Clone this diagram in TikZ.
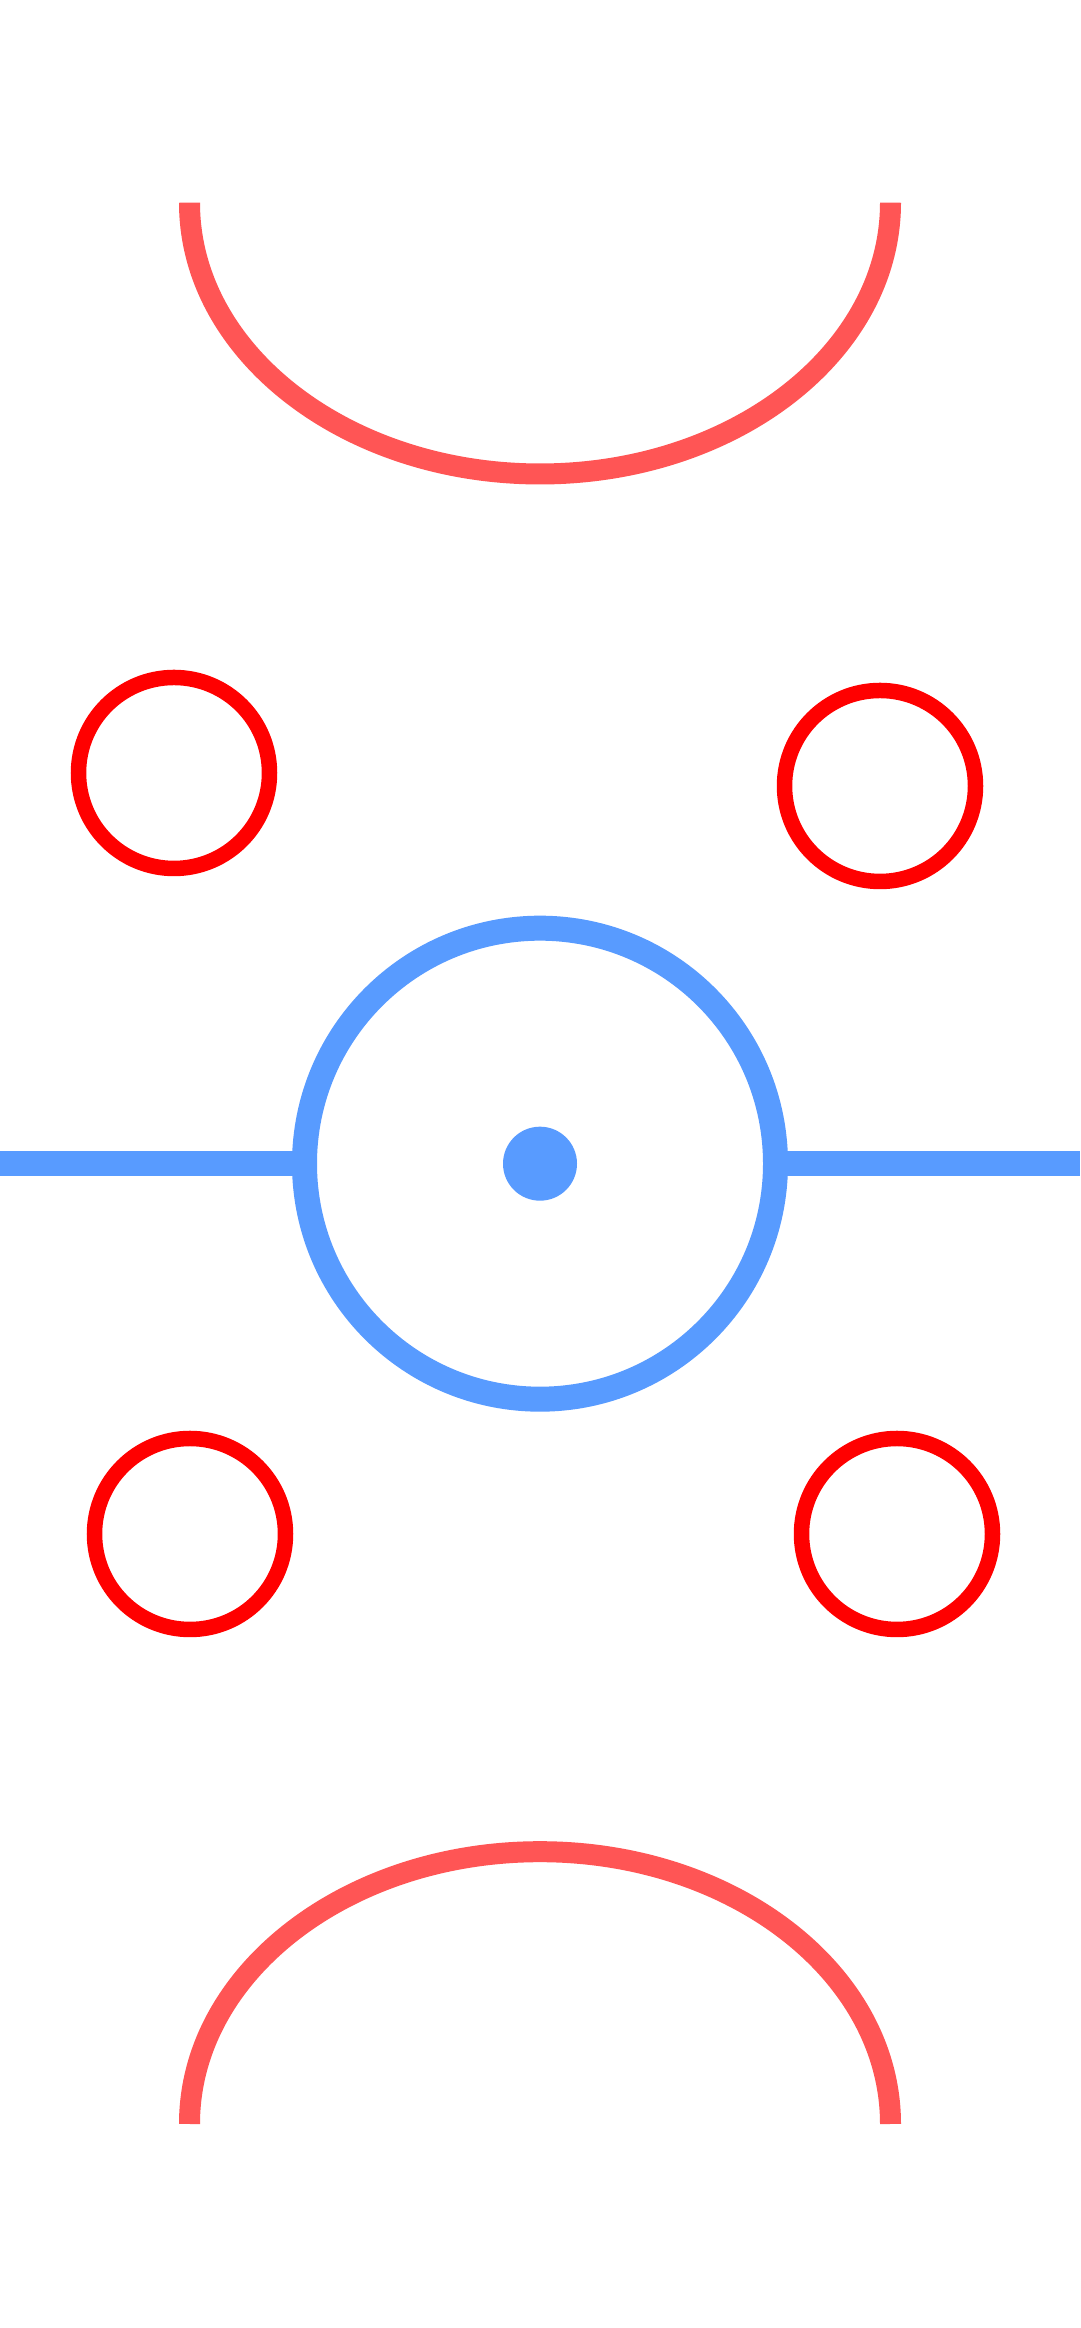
\documentclass[tikz,border=0pt]{standalone}
\usepackage{tikz}
\definecolor{rinkblue}{RGB}{88,155,255}
\definecolor{goalred}{RGB}{255,85,85}
\definecolor{spotred}{RGB}{255,0,0}
\begin{document}
\begin{tikzpicture}[x=1pt,y=1pt,
  faceoff/.style={circle, draw=spotred, line width=15.5pt, minimum size=191pt, inner sep=0pt, outer sep=0pt},
  centerring/.style={circle, draw=rinkblue, line width=25pt, minimum size=471pt, inner sep=0pt, outer sep=0pt},
  centerdot/.style={circle, fill=rinkblue, minimum size=74pt, inner sep=0pt},
  midline/.style={draw=rinkblue, line width=25.3pt},
  goalarc/.style={draw=goalred, line width=21pt}]
\useasboundingbox (0,0) rectangle (1080,2328);
\fill[white] (0,0) rectangle (1080,2328);
% goal arcs
\draw[goalarc] (189.5,2125.3) arc[start angle=180, end angle=360, x radius=350.5, y radius=271.3];
\draw[goalarc] (189.5,204) arc[start angle=180, end angle=0, x radius=350.5, y radius=272.3];
% centre
\node[centerring] (ring) at (540,1164.3) {};
\node[centerdot] (dot) at (540,1164.3) {};
\coordinate (lw) at (0,1164.3);
\coordinate (le) at (1080,1164.3);
\draw[midline] (lw) -- (ring.west);
\draw[midline] (ring.east) -- (le);
% face-off circles
\node[faceoff] (tl) at (174,1555) {};
\node[faceoff] (tr) at (880,1542) {};
\node[faceoff] (bl) at (190,794) {};
\node[faceoff] (br) at (897,794) {};
\end{tikzpicture}
\end{document}
